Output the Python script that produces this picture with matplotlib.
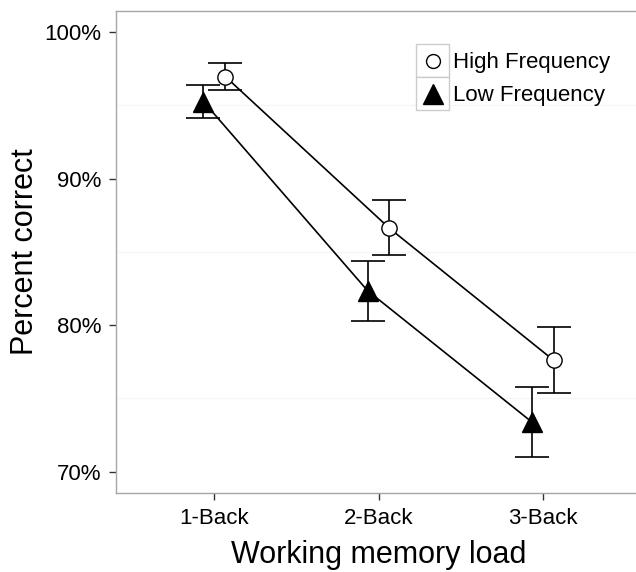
import matplotlib.pyplot as plt
from matplotlib.patches import Rectangle
from matplotlib.lines import Line2D
from matplotlib.ticker import FuncFormatter

plt.rcParams['font.family'] = ['Liberation Sans', 'DejaVu Sans']

loads = ['1-Back', '2-Back', '3-Back']
series = ['High Frequency', 'Low Frequency']
high_mean = [96.95, 86.6, 77.6]
high_lo = [96.05, 84.75, 75.35]
high_hi = [97.85, 88.5, 79.85]
low_mean = [95.25, 82.35, 73.4]
low_lo = [94.1, 80.25, 71.0]
low_hi = [96.4, 84.4, 75.8]

fig = plt.figure(figsize=(6.36, 5.72), dpi=100)
W, H = 636, 572
ax = fig.add_axes([116 / W, (H - 493) / H, 525 / W, 482 / H])

dodge = 0.067
xs = list(range(len(loads)))
styles = [
    (high_mean, high_lo, high_hi, +dodge, 'o', 'white', 11),
    (low_mean, low_lo, low_hi, -dodge, '^', 'black', 14),
]
for mean, lo, hi, off, mk, fc, ms in styles:
    x = [v + off for v in xs]
    yerr = [[m - l for m, l in zip(mean, lo)], [h - m for m, h in zip(mean, hi)]]
    ax.plot(x, mean, color='black', lw=1.2, zorder=2)
    ax.errorbar(x, mean, yerr=yerr, fmt='none', ecolor='black', elinewidth=1.2,
                capsize=12, capthick=1.2, zorder=3)
    ax.plot(x, mean, linestyle='none', marker=mk, markersize=ms, markerfacecolor=fc,
            markeredgecolor='black', markeredgewidth=1.0, zorder=4)

ax.set_xlim(-0.6, 2.6)
ax.set_ylim(68.54, 101.43)
ax.set_xticks(xs)
ax.set_xticklabels(loads)
ax.set_yticks([70, 80, 90, 100])
ax.yaxis.set_major_formatter(FuncFormatter(lambda v, p: '%d%%' % v))
for g in [75, 85, 95]:
    ax.axhline(g, color='#f6f6f6', lw=1.0, zorder=0)

for s in ['left', 'top', 'bottom', 'right']:
    ax.spines[s].set_color('#a6a6a6')
    ax.spines[s].set_linewidth(1.0)
ax.tick_params(axis='both', length=5, width=1.0, color='#333333',
               labelsize=16, labelcolor='black')
ax.tick_params(axis='y', pad=5.5)
ax.tick_params(axis='x', pad=6)

ax.set_xlabel('Working memory load', fontsize=22, labelpad=8, color='black')
ax.set_ylabel('Percent correct', fontsize=22, labelpad=3, color='black')

# legend, drawn in pixel coordinates
keys = [('o', 'white', 10), ('^', 'black', 14)]
for i, (name, (mk, fc, ms)) in enumerate(zip(series, keys)):
    top = 44 + 33 * i
    fig.patches.append(Rectangle((416 / W, (H - top - 33) / H), 33 / W, 33 / H,
                                 transform=fig.transFigure, facecolor='white',
                                 edgecolor='#cccccc', lw=1.0))
    fig.lines.append(Line2D([432.5 / W], [(H - top - 16.5) / H], transform=fig.transFigure,
                            marker=mk, markersize=ms, markerfacecolor=fc,
                            markeredgecolor='black', markeredgewidth=1.0, linestyle='none'))
    fig.text(453 / W, (H - top - 18.5) / H, name, fontsize=16, va='center', ha='left')

fig.savefig('out.png', dpi=100)
